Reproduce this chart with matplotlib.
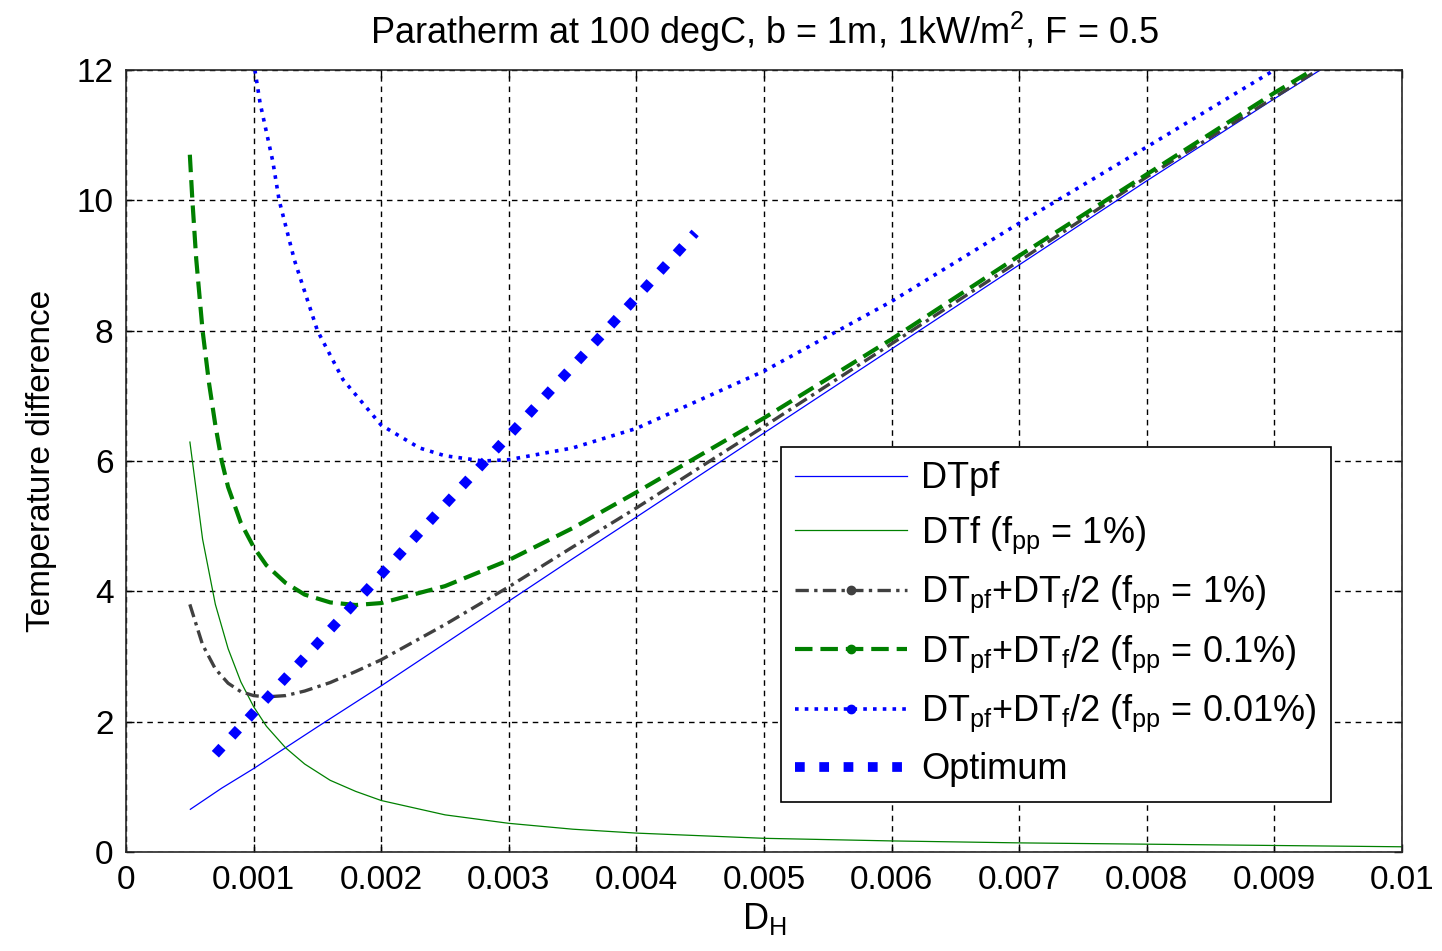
import numpy as np
import matplotlib
matplotlib.use('Agg')
from matplotlib import pyplot as plt
from matplotlib.lines import Line2D
from matplotlib.ticker import FuncFormatter

plt.rcParams['font.family'] = ['Liberation Sans', 'DejaVu Sans']
plt.rcParams['mathtext.fontset'] = 'custom'
plt.rcParams['mathtext.rm'] = 'Liberation Sans'
plt.rcParams['mathtext.it'] = 'Liberation Sans'

# DTpf
dh_pf = [0.0005, 0.00075, 0.001, 0.00125, 0.0015, 0.002, 0.0025, 0.003, 0.0035,
         0.004, 0.005, 0.006, 0.007, 0.008, 0.009, 0.0094]
dt_pf = [0.65, 0.98, 1.28, 1.6, 1.92, 2.55, 3.2, 3.85, 4.5,
         5.14, 6.43, 7.72, 9.01, 10.3, 11.56, 12.05]

# DTf (fpp = 1%)
dh_f = [0.0005, 0.0006, 0.0007, 0.0008, 0.0009, 0.001, 0.0011, 0.00125, 0.0014,
        0.0016, 0.0018, 0.002, 0.0025, 0.003, 0.0035, 0.004, 0.005, 0.006,
        0.007, 0.008, 0.009, 0.01]
dt_f = [6.3, 4.8, 3.8, 3.12, 2.61, 2.23, 1.93, 1.6, 1.35,
        1.1, 0.93, 0.79, 0.57, 0.44, 0.35, 0.29, 0.21, 0.17,
        0.14, 0.12, 0.1, 0.08]

# DTpf + DTf/2 (fpp = 1%)
dh_1 = [0.0005, 0.0006, 0.0007, 0.0008, 0.0009, 0.001, 0.0011, 0.00125, 0.0014,
        0.0016, 0.0018, 0.002, 0.0025, 0.003, 0.0035, 0.004, 0.005, 0.006,
        0.007, 0.008, 0.009, 0.00934]
dt_1 = [3.8, 3.18, 2.81, 2.59, 2.46, 2.4, 2.38, 2.4, 2.47,
        2.6, 2.77, 2.95, 3.49, 4.07, 4.68, 5.28, 6.53, 7.8,
        9.07, 10.36, 11.58, 12.0]

# DTpf + DTf/2 (fpp = 0.1%)
dh_01 = [0.0005, 0.00052, 0.00055, 0.0006, 0.00065, 0.0007, 0.00075, 0.0008, 0.0009,
         0.001, 0.0011, 0.00125, 0.0014, 0.0016, 0.0018, 0.002, 0.0025, 0.003,
         0.0035, 0.004, 0.005, 0.006, 0.007, 0.008, 0.009, 0.0093]
dt_01 = [10.7, 10.0, 9.1, 8.0, 7.2, 6.55, 6.0, 5.6, 5.05,
         4.68, 4.4, 4.13, 3.95, 3.83, 3.79, 3.82, 4.08, 4.48,
         4.97, 5.52, 6.66, 7.87, 9.15, 10.4, 11.65, 12.0]

# DTpf + DTf/2 (fpp = 0.01%)
dh_001 = [0.00101, 0.00105, 0.00115, 0.0012, 0.00132, 0.0015, 0.0017, 0.002, 0.0023,
          0.0025, 0.0028, 0.003, 0.0035, 0.004, 0.005, 0.006, 0.007, 0.008, 0.009]
dt_001 = [12.0, 11.5, 10.6, 10.0, 9.08, 8.0, 7.25, 6.55, 6.2,
          6.08, 6.0, 6.02, 6.2, 6.5, 7.38, 8.45, 9.65, 10.82, 12.0]

# Optimum
dh_opt = [0.0007, 0.00078, 0.001, 0.0015, 0.002, 0.0025, 0.003, 0.0035, 0.004, 0.00446]
dt_opt = [1.5, 1.67, 2.14, 3.2, 4.26, 5.33, 6.39, 7.45, 8.51, 9.5]

sub = lambda s: r'$_{\mathregular{' + s + '}}$'
labels = ['DTpf',
          'DTf (f' + sub('pp') + ' = 1%)',
          'DT' + sub('pf') + '+DT' + sub('f') + '/2 (f' + sub('pp') + ' = 1%)',
          'DT' + sub('pf') + '+DT' + sub('f') + '/2 (f' + sub('pp') + ' = 0.1%)',
          'DT' + sub('pf') + '+DT' + sub('f') + '/2 (f' + sub('pp') + ' = 0.01%)',
          'Optimum']

grey = '#404040'
styles = [
    dict(color='#0000ff', lw=0.9, ls='-'),
    dict(color='#008000', lw=0.9, ls='-'),
    dict(color=grey, lw=2.4, ls=(0, (4, 1.6, 1, 1.6))),
    dict(color='#008000', lw=3.0, ls=(0, (4.2, 1.9))),
    dict(color='#0000ff', lw=2.6, ls=(0, (1, 1.7))),
    dict(color='#0000ff', lw=7.0, ls=(0, (1, 1.5))),
]

FS = 24

fig = plt.figure(figsize=(14.42, 9.51), dpi=100)
ax = fig.add_axes([0.0874, 0.1041, 0.8849, 0.8223])

series = [(dh_pf, dt_pf), (dh_f, dt_f), (dh_1, dt_1), (dh_01, dt_01), (dh_001, dt_001), (dh_opt, dt_opt)]
for (x, y), st in zip(series, styles):
    ax.plot(x, y, color=st['color'], lw=st['lw'], ls=st['ls'],
            dash_capstyle='butt', solid_capstyle='butt')

ax.set_xlim(0, 0.01)
ax.set_ylim(0, 12)
ax.set_xticks(np.linspace(0, 0.01, 11))
ax.set_yticks(np.arange(0, 13, 2))
ax.xaxis.set_major_formatter(FuncFormatter(lambda v, p: '%g' % round(v, 4)))
ax.tick_params(direction='in', top=True, right=True, length=6, width=1,
               labelsize=FS, pad=9)
ax.grid(True, color='k', ls=(0, (4, 3.5)), lw=1.0)
for s in ax.spines.values():
    s.set_linewidth(1.2)
    s.set_color('#262626')

ax.set_title('Paratherm at 100 degC, b = 1m, 1kW/m$^{\\mathregular{2}}$, F = 0.5', fontsize=26, pad=19)
ax.set_xlabel('D' + sub('H'), fontsize=26, labelpad=4)
ax.set_ylabel('Temperature difference', fontsize=FS, labelpad=14)

handles = []
for i, st in enumerate(styles):
    if i in (2, 3, 4):
        h = Line2D([], [], color=st['color'], lw=st['lw'], ls=st['ls'], marker='o',
                   markersize=6, dash_capstyle='butt')
    else:
        h = Line2D([], [], color=st['color'], lw=st['lw'], ls=st['ls'], dash_capstyle='butt')
    handles.append(h)

leg = ax.legend(handles, labels, loc='upper left', bbox_to_anchor=(0.513, 0.518),
                fontsize=26, handlelength=3.1, handletextpad=0.4, labelspacing=0.5,
                borderpad=0.4, borderaxespad=0, fancybox=False, framealpha=1,
                edgecolor='k')
leg.get_frame().set_linewidth(1.2)

fig.savefig('out.png', dpi=100)
